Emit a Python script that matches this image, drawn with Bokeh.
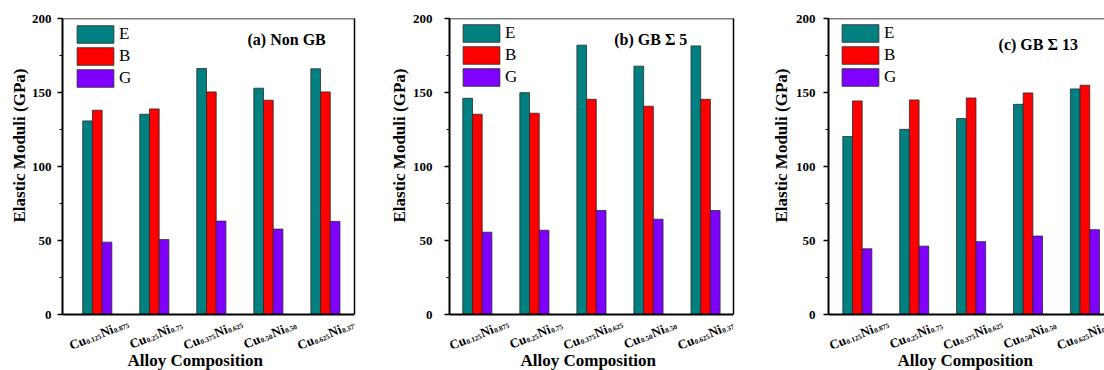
import numpy as np
from bokeh.plotting import figure
from bokeh.models import (Range1d, SingleIntervalTicker, FixedTicker, Label, Span, Title,
                          ColumnDataSource, LinearAxis)
from bokeh.layouts import row
from bokeh.transform import dodge
from bokeh.embed import file_html
from bokeh.resources import INLINE
from bokeh.core.properties import value

# ---------------- data ----------------
groups = [1, 2, 3, 4, 5]
cu_sub = ["0.125", "0.25", "0.375", "0.50", "0.625"]
ni_sub = ["0.875", "0.75", "0.625", "0.50", "0.375"]
series = ["E", "B", "G"]
colors = ["#008080", "#FF0000", "#8000FF"]

E_a = [130.8, 135.3, 166.2, 152.9, 166.0]
B_a = [138.0, 138.9, 150.4, 144.8, 150.4]
G_a = [48.9, 50.6, 63.1, 57.7, 62.9]

E_b = [146.1, 149.9, 182.0, 167.8, 181.5]
B_b = [135.3, 136.0, 145.4, 140.7, 145.4]
G_b = [55.6, 56.9, 70.3, 64.4, 70.2]

E_c = [120.3, 125.1, 132.4, 142.0, 152.4]
B_c = [144.3, 145.0, 146.3, 149.7, 154.9]
G_c = [44.4, 46.2, 49.2, 53.0, 57.3]

titles = ["(a) Non GB", "(b) GB Σ 5", "(c) GB Σ 13"]
y_label = "Elastic Moduli (GPa)"
x_label = "Alloy Composition"

# ---------------- layout / style ----------------
SERIF = "Liberation Serif"
H = 370
MB_BOTTOM = 22
Y_MIN = -22.97   # room below 0 inside the frame for the composition labels
panels = [
    dict(vals=(E_a, B_a, G_a), title=titles[0], width=374, mbl=62, mbr=20,
         xr=(0.39, 5.51), tx=4.32, ty=185.5, leg=(10, 259), mls=6, yst=0, xoff=65, border=True),
    dict(vals=(E_b, B_b, G_b), title=titles[1], width=379, mbl=75, mbr=20,
         xr=(0.512, 5.49), tx=4.04, ty=186.0, leg=(9, 260), mls=12, yst=1, xoff=71, border=True),
    dict(vals=(E_c, B_c, G_c), title=titles[2], width=351, mbl=75, mbr=0,
         xr=(0.493, 5.344), tx=4.18, ty=182.5, leg=(9, 260), mls=8, yst=3, xoff=69, border=False),
]

bar_w = 0.17
offsets = [-0.17, 0.0, 0.17]

# character widths (em) for bold serif, used to lay out the composition labels
CW = {"C": 0.722, "u": 0.556, "N": 0.722, "i": 0.278, ".": 0.25}
def twidth(s, size):
    return sum(CW.get(ch, 0.5) for ch in s) * size

BIG, SMALL = 13, 7
ANGLE_DEG = 22
theta = np.deg2rad(ANGLE_DEG)
bl = np.array([np.cos(theta), -np.sin(theta)])   # along baseline (screen, y down)
up = np.array([-np.sin(theta), -np.cos(theta)])  # text "up" direction

def label_sources():
    big = dict(x=[], y=[], text=[], xo=[], yo=[])
    small = dict(x=[], y=[], text=[], xo=[], yo=[])
    for g, s1, s2 in zip(groups, cu_sub, ni_sub):
        u_cu = 0.0
        u_s1 = u_cu + twidth("Cu", BIG) + 0.5
        u_ni = u_s1 + twidth(s1, SMALL) + 0.5
        u_s2 = u_ni + twidth("Ni", BIG) + 0.5
        L = u_s2 + twidth(s2, SMALL)
        start = np.array([0.0, 16.0]) - (L / 2 * bl + 4 * up)
        for txt, u, v, d in [("Cu", u_cu, 0, big), (s1, u_s1, -3, small),
                             ("Ni", u_ni, 0, big), (s2, u_s2, -3, small)]:
            o = start + u * bl + v * up
            d["x"].append(g); d["y"].append(0)
            d["text"].append(txt)
            d["xo"].append(float(o[0]))
            d["yo"].append(float(o[1]))   # glyph offsets: screen pixels, y down
    return ColumnDataSource(big), ColumnDataSource(small)

figs = []
for pc in panels:
    p = figure(width=pc["width"], height=H, output_backend="svg", toolbar_location=None,
               x_range=Range1d(*pc["xr"]), y_range=Range1d(Y_MIN, 200),
               min_border_left=pc["mbl"], min_border_right=pc["mbr"],
               min_border_top=18, min_border_bottom=MB_BOTTOM)
    p.background_fill_color = "white"
    p.border_fill_color = "white"
    p.grid.visible = False
    p.outline_line_color = None
    # top border of the plot box
    p.add_layout(Span(location=200, dimension="width", line_color="black", line_width=1.5))
    if pc["border"]:
        ra = LinearAxis(bounds=(0, 200), ticker=FixedTicker(ticks=[]),
                        axis_line_width=1.5, axis_line_color="black",
                        major_tick_line_color=None, minor_tick_line_color=None,
                        major_label_text_font_size="0px", major_label_standoff=0)
        p.add_layout(ra, "right")

    src = ColumnDataSource(dict(x=groups, E=pc["vals"][0], B=pc["vals"][1], G=pc["vals"][2]))
    for name, col, off in zip(series, colors, offsets):
        p.vbar(x=dodge("x", off, range=p.x_range), top=name, bottom=0, width=bar_w, source=src,
               fill_color=col, line_color="#2a2a2a", line_width=0.8, legend_label=name)

    # y axis
    ya = p.yaxis[0]
    ya.bounds = (0, 200)
    ya.ticker = SingleIntervalTicker(interval=50, num_minor_ticks=2)
    ya.axis_line_width = 2
    ya.major_tick_out = 5
    ya.major_tick_in = 0
    ya.minor_tick_out = 3
    ya.minor_tick_in = 0
    ya.major_tick_line_width = 1.5
    ya.major_label_text_font = SERIF
    ya.major_label_text_font_style = "bold"
    ya.major_label_text_font_size = "13px"
    ya.major_label_text_color = "black"
    ya.major_label_standoff = pc["mls"]

    # y axis title, started from the bottom so it is centred on the 0-200 axis
    p.add_layout(Title(text=y_label, align="left", offset=126, standoff=pc["yst"],
                       text_font=SERIF, text_font_style="bold", text_font_size="17px",
                       text_color="black"), "left")

    # x axis, drawn at y = 0 inside the frame
    xa = p.xaxis[0]
    xa.fixed_location = 0
    xa.ticker = FixedTicker(ticks=[])
    xa.minor_tick_line_color = None
    xa.major_tick_line_color = None
    xa.major_label_text_font_size = "0px"
    xa.axis_line_width = 2

    # x axis title
    p.add_layout(Title(text=x_label, align="left", offset=pc["xoff"], standoff=0,
                       text_font=SERIF, text_font_style="bold", text_font_size="17px",
                       text_color="black"), "below")

    # composition labels with subscripts (Cu_x Ni_y)
    sb, ss = label_sources()
    p.text(x="x", y="y", text="text", x_offset="xo", y_offset="yo", source=sb,
           angle=ANGLE_DEG, angle_units="deg", text_align="left", text_baseline="alphabetic",
           text_font=value(SERIF), text_font_style="bold", text_font_size="13px",
           text_color="black")
    p.text(x="x", y="y", text="text", x_offset="xo", y_offset="yo", source=ss,
           angle=ANGLE_DEG, angle_units="deg", text_align="left", text_baseline="alphabetic",
           text_font=value(SERIF), text_font_style="bold", text_font_size="7px",
           text_color="black")

    # panel title
    p.add_layout(Label(x=pc["tx"], y=pc["ty"], text=pc["title"], text_align="center",
                       text_baseline="middle", text_font=SERIF, text_font_style="bold",
                       text_font_size="16px", text_color="black"))

    # legend
    lg = p.legend[0]
    lg.location = pc["leg"]
    lg.glyph_width = 46
    lg.glyph_height = 22
    lg.label_height = 20
    lg.spacing = -2
    lg.padding = 0
    lg.margin = 0
    lg.label_standoff = 1
    lg.border_line_color = None
    lg.background_fill_alpha = 0
    lg.label_text_font = SERIF
    lg.label_text_font_size = "17px"
    lg.label_text_color = "black"

    figs.append(p)

layout = row(*figs, spacing=0)
open("out.html", "w").write(file_html(layout, INLINE))
